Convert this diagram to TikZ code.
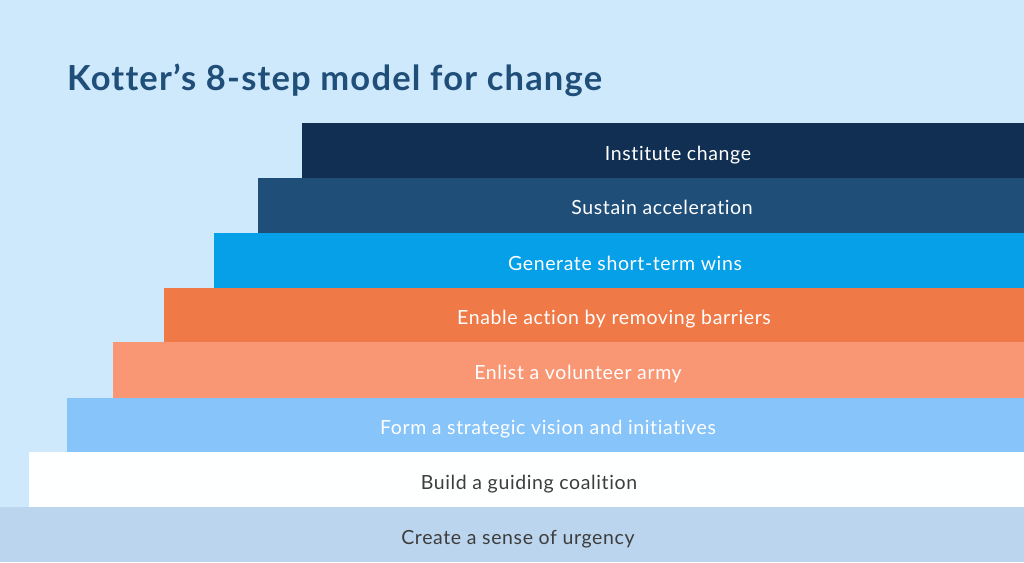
\documentclass[tikz,border=0pt]{standalone}
\usepackage{fontspec}
\setmainfont{Lato}[Ligatures=NoCommon,LetterSpace=3.2]
\newfontfamily\titlefont{Lato}[Ligatures=NoCommon,LetterSpace=3.5]
\usetikzlibrary{positioning}
\definecolor{bgblue}{HTML}{CFE9FC}
\definecolor{titleblue}{HTML}{1F4E79}
\definecolor{stepone}{HTML}{BCD5EE}
\definecolor{steptwo}{HTML}{FEFFFF}
\definecolor{stepthree}{HTML}{87C4F9}
\definecolor{stepfour}{HTML}{F99775}
\definecolor{stepfive}{HTML}{F07A47}
\definecolor{stepsix}{HTML}{06A0E8}
\definecolor{stepseven}{HTML}{1F4E79}
\definecolor{stepeight}{HTML}{102F52}
\definecolor{textgray}{HTML}{3D3D3D}
\def\Title{Kotter’s 8-step model for change}

\begin{document}
\begin{tikzpicture}[x=1pt,y=-1pt,% pixel units, y runs downwards
				every node/.style={
					align=center,	% centre the step texts
					inner sep=0pt,
					anchor=base		% all labels sit on their baseline
				},
				steplabel/.style={font=\fontsize{19.5}{23}\selectfont,text=white},
				darklabel/.style={steplabel,text=textgray}
			]
			\useasboundingbox (0,0) rectangle (1024,562);
			\fill[bgblue] (0,0) rectangle (1024,562);
			\node[anchor=base west,font=\titlefont\fontsize{34.5}{40}\selectfont\bfseries,text=titleblue](T) at (67,90){\Title};
			% the staircase, top step first
			\fill[stepeight] (302,123) rectangle (1024,177.5);
			\fill[stepseven] (258,177.5) rectangle (1024,233);
			\fill[stepsix] (214,233) rectangle (1024,287.5);
			\fill[stepfive] (164,287.5) rectangle (1024,341.5);
			\fill[stepfour] (113,341.5) rectangle (1024,398);
			\fill[stepthree] (67,398) rectangle (1024,452);
			\fill[steptwo] (29,452) rectangle (1024,507);
			\fill[stepone] (0,507) rectangle (1024,562);
			% step texts
			\node[steplabel](S8) at (678,160.5){Institute change};
			\node[steplabel](S7) at (662,214.5){Sustain acceleration};
			\node[steplabel](S6) at (625,270){Generate short-term wins};
			\node[steplabel](S5) at (614,324.5){Enable action by removing barriers};
			\node[steplabel](S4) at (578,379.5){Enlist a volunteer army};
			\node[steplabel](S3) at (548,434.5){Form a strategic vision and initiatives};
			\node[darklabel](S2) at (529,489){Build a guiding coalition};
			\node[darklabel](S1) at (518,544){Create a sense of urgency};
		\end{tikzpicture}
\end{document}
